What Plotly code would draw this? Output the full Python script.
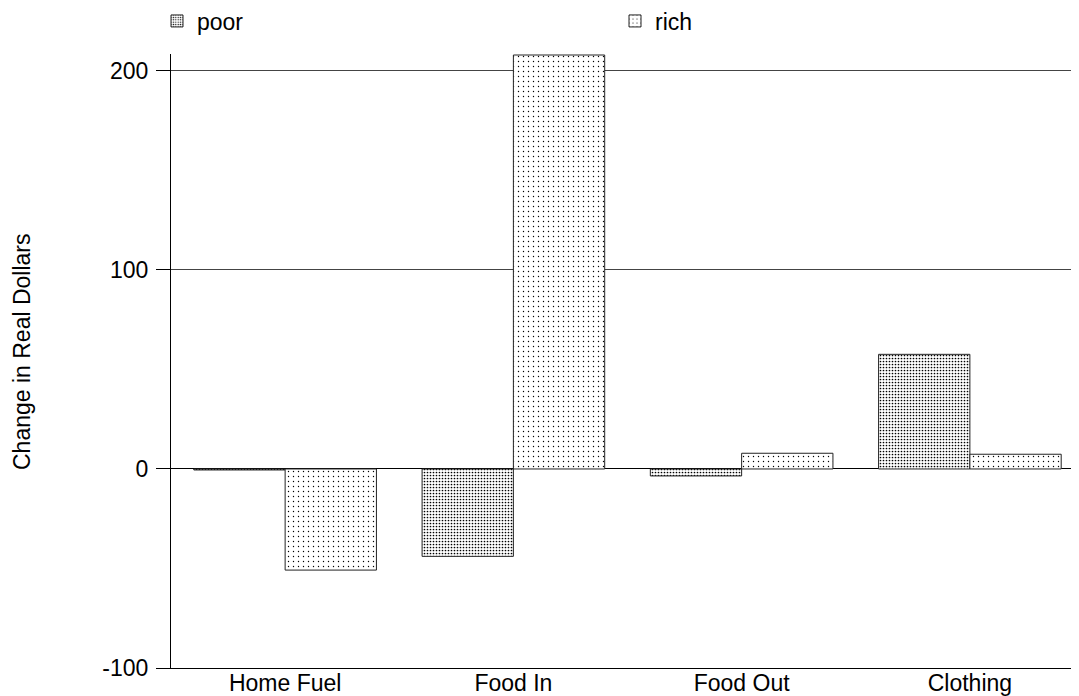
import plotly.graph_objects as go

categories = ["Home Fuel", "Food In", "Food Out", "Clothing"]
poor = [-0.5, -43.9, -3.5, 57.6]
rich = [-50.8, 208.0, 7.9, 7.4]
y_ticks = [-100, 0, 100, 200]
y_title = "Change in Real Dollars"

FONT = "Liberation Sans, Arial, sans-serif"
FS = 23

fig = go.Figure()
fig.add_trace(go.Bar(
    name="poor", x=categories, y=poor, legend="legend",
    marker=dict(color="white", line=dict(color="#222", width=1),
                pattern=dict(shape=".", size=3, solidity=0.25, fgcolor="black",
                             bgcolor="white", fillmode="replace")),
))
fig.add_trace(go.Bar(
    name="rich", x=categories, y=rich, legend="legend2",
    marker=dict(color="white", line=dict(color="#222", width=1),
                pattern=dict(shape=".", size=5, solidity=0.06, fgcolor="black",
                             bgcolor="white", fillmode="replace")),
))

# page is offset by the 8px body margin; figure fills the rest of the window
W, H = 1071, 688
L, R, T, B = 163, 0, 46, 28
PW = W - L - R
PH = H - T - B

leg_common = dict(orientation="h", xanchor="left", yanchor="middle",
                  y=1 + (T - 13) / PH, font=dict(family=FONT, size=FS),
                  bgcolor="rgba(0,0,0,0)", borderwidth=0)

fig.update_layout(
    width=W, height=H,
    margin=dict(l=L, r=R, t=T, b=B, autoexpand=False),
    paper_bgcolor="white", plot_bgcolor="white",
    font=dict(family=FONT, size=FS, color="black"),
    barmode="group", bargap=0.2, bargroupgap=0,
    showlegend=True,
    legend=dict(x=-14 / PW, **leg_common),
    legend2=dict(x=(628 - 8 - 163 - 6 + 7) / PW - 14 / PW, **leg_common),
    xaxis=dict(range=[-0.5, 3.478], showline=True, linecolor="black", linewidth=1,
               ticks="", showgrid=False, zeroline=False, automargin=False,
               ticklabelstandoff=-6, tickfont=dict(size=FS)),
    yaxis=dict(range=[-100, 208.5], tickvals=y_ticks, ticktext=[str(v) for v in y_ticks],
               showline=True, linecolor="black", linewidth=1,
               ticks="outside", ticklen=14, tickcolor="black", tickwidth=1,
               showgrid=True, gridcolor="#444", gridwidth=1,
               zeroline=True, zerolinecolor="black", zerolinewidth=1,
               automargin=False, ticklabelstandoff=3, tickfont=dict(size=FS)),
    annotations=[dict(text=y_title, textangle=-90, xref="paper", yref="paper",
                      x=0, y=(H - B - (352 - 8)) / PH, xanchor="center", yanchor="middle",
                      xshift=-149, showarrow=False, font=dict(size=FS))],
)

fig.write_html("out.html")
